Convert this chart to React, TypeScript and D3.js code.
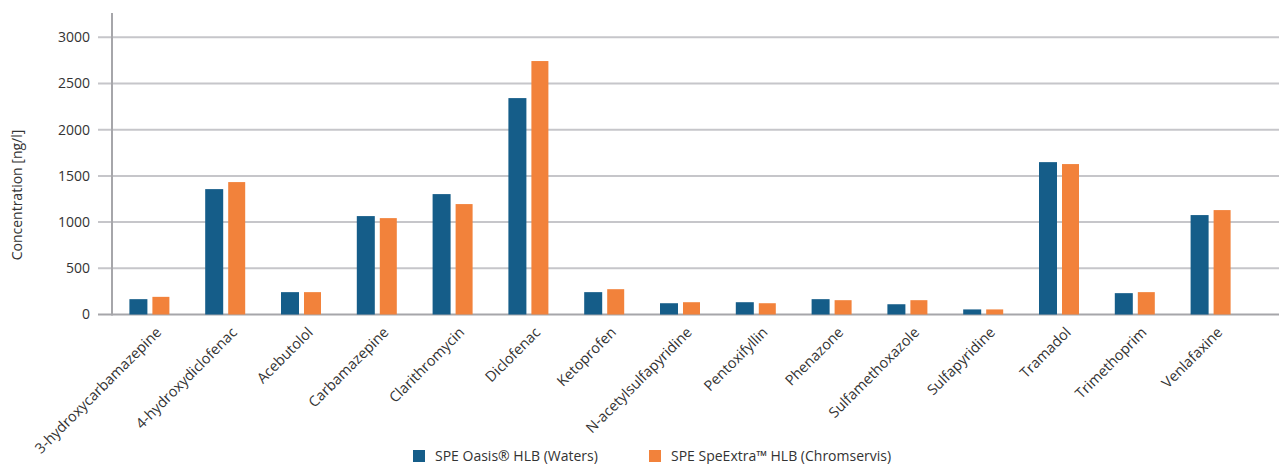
import React from "react";
import * as d3 from "d3";

const categories = [
  "3-hydroxycarbamazepine",
  "4-hydroxydiclofenac",
  "Acebutolol",
  "Carbamazepine",
  "Clarithromycin",
  "Diclofenac",
  "Ketoprofen",
  "N-acetylsulfapyridine",
  "Pentoxifyllin",
  "Phenazone",
  "Sulfamethoxazole",
  "Sulfapyridine",
  "Tramadol",
  "Trimethoprim",
  "Venlafaxine",
];

const oasis = [166, 1357, 242, 1065, 1303, 2342, 242, 122, 133, 166, 111, 55, 1649, 231, 1076];
const speExtra = [191, 1433, 242, 1043, 1195, 2743, 274, 133, 122, 155, 155, 55, 1628, 242, 1130];

const yTicks = [0, 500, 1000, 1500, 2000, 2500, 3000];
const seriesNames = ["SPE Oasis® HLB (Waters)", "SPE SpeExtra™ HLB (Chromservis)"];
const colors = ["#155d89", "#f2823b"];

const W = 1279;
const H = 464;
const font = "'Open Sans', 'Noto Sans', sans-serif";

export default function App() {
  const x = d3.scaleBand<string>().domain(categories).range([112, 1249]);
  const y = d3.scaleLinear().domain([0, 3000]).range([314.5, 37.3]);
  const step = x.bandwidth();
  const barW = 18;
  const gap = 5;
  const groupW = barW * 2 + gap;
  const legendX = [413, 649];

  return (
    <svg
      width={W}
      height={H}
      style={{ position: "absolute", left: 0, top: 0, fontFamily: font }}
    >
      <rect width={W} height={H} fill="#fff" />
      {/* grid + y ticks */}
      {yTicks.map((t) => (
        <g key={t}>
          <line
            x1={98}
            x2={W}
            y1={y(t)}
            y2={y(t)}
            stroke={t === 0 ? "#a6a6aa" : "#c6c6ca"}
            strokeWidth={2}
          />
          <text x={90} y={y(t)} dy="0.35em" textAnchor="end" fontSize={14} fill="#333">
            {t}
          </text>
        </g>
      ))}
      <line x1={112} x2={112} y1={13} y2={315.5} stroke="#a6a6aa" strokeWidth={2} />
      <text
        transform={`translate(22,195) rotate(-90)`}
        textAnchor="middle"
        fontSize={14}
        fill="#333"
      >
        Concentration [ng/l]
      </text>

      {/* bars */}
      {categories.map((c, i) => {
        const x0 = (x(c) as number) + (step - groupW) / 2;
        return (
          <g key={c}>
            <rect x={x0} y={y(oasis[i])} width={barW} height={y(0) - y(oasis[i])} fill={colors[0]} />
            <rect
              x={x0 + barW + gap}
              y={y(speExtra[i])}
              width={barW - 1}
              height={y(0) - y(speExtra[i])}
              fill={colors[1]}
            />
          </g>
        );
      })}

      {/* x labels */}
      {categories.map((c) => {
        const cx = (x(c) as number) + step / 2;
        return (
          <text
            key={c}
            transform={`translate(${cx + 5},326) rotate(-45)`}
            dy="0.71em"
            textAnchor="end"
            fontSize={14.5}
            fill="#333"
          >
            {c}
          </text>
        );
      })}

      {/* legend */}
      {seriesNames.map((s, i) => (
        <g key={s}>
          <rect x={legendX[i]} y={450} width={12} height={12} fill={colors[i]} />
          <text x={legendX[i] + 22} y={460.5} fontSize={14} fill="#333">
            {s}
          </text>
        </g>
      ))}
    </svg>
  );
}
